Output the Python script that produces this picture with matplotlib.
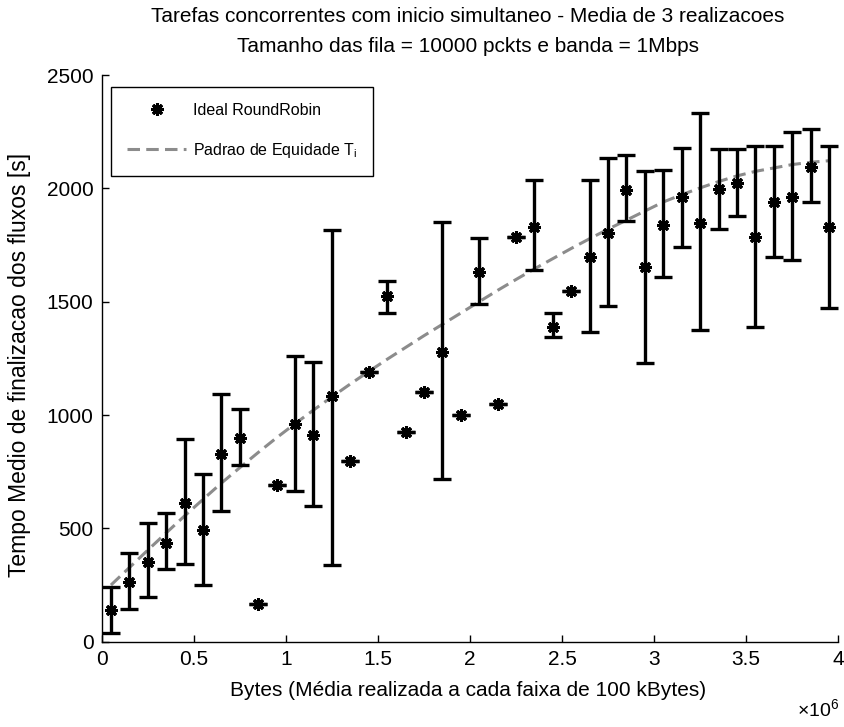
import matplotlib
matplotlib.use("Agg")
import matplotlib.pyplot as plt
import numpy as np
from matplotlib.ticker import FuncFormatter, MultipleLocator

plt.rcParams['font.family'] = ['Liberation Sans', 'DejaVu Sans']
plt.rcParams['lines.scale_dashes'] = False

# x positions (bytes), bin centres of 100 kByte bins
x_bytes = [50e3 + 100e3 * k for k in range(40)]

# mean completion time [s]
mean_t = [140, 265, 353, 437, 613, 493, 828, 898, 166, 692,
          959, 912, 1084, 797, 1191, 1523, 924, 1103, 1280, 1000,
          1631, 1047, 1784, 1831, 1390, 1549, 1699, 1805, 1993, 1652,
          1840, 1961, 1846, 1996, 2025, 1785, 1942, 1961, 2093, 1831]

# lower and upper ends of error bars [s]
low_t = [40, 144, 199, 319, 341, 250, 577, 780, 166, 692,
         665, 599, 338, 797, 1191, 1449, 924, 1103, 718, 1000,
         1489, 1047, 1784, 1640, 1343, 1549, 1368, 1481, 1858, 1230,
         1610, 1743, 1376, 1820, 1879, 1387, 1699, 1684, 1939, 1471]

high_t = [243, 393, 522, 569, 893, 740, 1093, 1027, 166, 692,
          1261, 1236, 1817, 797, 1191, 1593, 924, 1103, 1853, 1000,
          1780, 1047, 1784, 2037, 1449, 1549, 2037, 2133, 2145, 2077,
          2082, 2180, 2332, 2173, 2173, 2188, 2188, 2248, 2262, 2188]

# fairness reference curve T_i
fair_t = [250, 327, 404, 480, 555, 628, 700, 768, 835, 900,
          962, 1022, 1080, 1137, 1192, 1246, 1298, 1350, 1400, 1450,
          1500, 1550, 1598, 1645, 1690, 1735, 1778, 1820, 1860, 1900,
          1940, 1972, 2002, 2030, 2055, 2075, 2090, 2105, 2115, 2122]

title_line1 = "Tarefas concorrentes com inicio simultaneo - Media de 3 realizacoes"
title_line2 = "Tamanho das fila = 10000 pckts e banda = 1Mbps"
xlabel_text = "Bytes (Média realizada a cada faixa de 100 kBytes)"
ylabel_text = "Tempo Medio de finalizacao dos fluxos [s]"
legend_labels = ["Ideal RoundRobin", "Padrao de Equidade T$_\\mathregular{i}$"]

fs = 15

fig = plt.figure(figsize=(8.45, 7.27), dpi=100)
ax = fig.add_axes([0.1204, 0.1173, 0.9920 - 0.1204, 0.8968 - 0.1173])

mean_a = np.array(mean_t, dtype=float)
yerr = [mean_a - np.array(low_t), np.array(high_t) - mean_a]

eb = ax.errorbar(x_bytes, mean_t, yerr=yerr, fmt='none', ecolor='black',
                 elinewidth=2.4, capsize=6.5, capthick=2.4, zorder=3)
pts, = ax.plot(x_bytes, mean_t, linestyle='none', marker=(8, 2, 0),
               markersize=9, markeredgewidth=2.2, color='black', zorder=4)
ln, = ax.plot(x_bytes, fair_t, color='#8c8c8c', linewidth=2.2,
              dashes=(9, 4.5), zorder=2)

ax.set_xlim(0, 4e6)
ax.set_ylim(0, 2500)
ax.xaxis.set_major_locator(MultipleLocator(0.5e6))
ax.yaxis.set_major_locator(MultipleLocator(500))
ax.xaxis.set_major_formatter(FuncFormatter(lambda v, p: "%g" % (v / 1e6)))
ax.yaxis.set_major_formatter(FuncFormatter(lambda v, p: "%g" % v))

for s in ['top', 'right']:
    ax.spines[s].set_visible(False)
for s in ['left', 'bottom']:
    ax.spines[s].set_linewidth(1.0)
ax.tick_params(direction='in', length=5, width=1.0, labelsize=fs, pad=6,
               top=False, right=False)

fig.text(0.5535, 1 - 17 / 727, title_line1, fontsize=fs, ha='center', va='center')
fig.text(0.5535, 1 - 47 / 727, title_line2, fontsize=fs, ha='center', va='center')
fig.text(0.5535, 1 - 690 / 727, xlabel_text, fontsize=fs, ha='center', va='center')
fig.text(20 / 845, 1 - 365 / 727, ylabel_text, fontsize=fs + 1.5, ha='center',
         va='center', rotation=90)

fig.text(0.9935, 0.008, "\u00d710$^{\\mathregular{6}}$", fontsize=fs - 1,
         ha='right', va='bottom')

leg = ax.legend([pts, ln], legend_labels, loc='upper left',
                bbox_to_anchor=(0.0126, 0.979), borderaxespad=0,
                fontsize=11.5, frameon=True,
                fancybox=False, edgecolor='black', framealpha=1,
                handlelength=3.7, handletextpad=0.45, borderpad=1.0,
                labelspacing=1.45)
leg.get_frame().set_linewidth(1.0)

fig.savefig("out.png", dpi=100)
